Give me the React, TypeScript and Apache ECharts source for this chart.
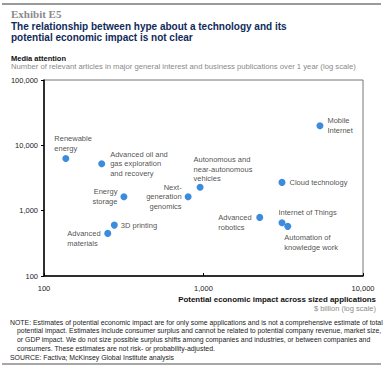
import React, { useEffect, useRef } from "react";
import * as echarts from "echarts";

const names = [
  "Renewable\nenergy",
  "Advanced oil and\ngas exploration\nand recovery",
  "Energy\nstorage",
  "Next-\ngeneration\ngenomics",
  "Autonomous and\nnear-autonomous\nvehicles",
  "Mobile\nInternet",
  "Cloud technology",
  "Advanced\nrobotics",
  "Internet of Things",
  "Automation of\nknowledge work",
  "3D printing",
  "Advanced\nmaterials",
];
const impact = [137, 230, 317, 801, 952, 5370, 3105, 2252, 3105, 3374, 276, 251];
const attention = [6300, 5220, 1634, 1634, 2277, 19950, 2710, 789, 653, 575, 601, 449];

const xTicks = [100, 1000, 10000];
const yTicks = [100, 1000, 10000, 100000];

const labelPlacement: any[] = [
  { position: [-8, -21], align: "left", verticalAlign: "top" },
  { position: "right", distance: 5 },
  { position: "left", distance: 3 },
  { position: "left", distance: 3 },
  { position: [-3, -29], align: "left", verticalAlign: "top" },
  { position: "right", distance: 4 },
  { position: "right", distance: 4 },
  { position: [-38, -1], align: "left", verticalAlign: "top" },
  { position: [0, -12], align: "left", verticalAlign: "top" },
  { position: [0, 10], align: "left", verticalAlign: "top" },
  { position: "right", distance: 3 },
  { position: [-37, -1], align: "left", verticalAlign: "top" },
];

const noteLines = [
  "NOTE: Estimates of potential economic impact are for only some applications and is not a comprehensive estimate of total",
  "potential impact. Estimates include consumer surplus and cannot be related to potential company revenue, market size,",
  "or GDP impact. We do not size possible surplus shifts among companies and industries, or between companies and",
  "consumers. These estimates are not risk- or probability-adjusted.",
];

const FONT = "'Liberation Sans', Arial, sans-serif";
const fmt = (v: number) => Math.round(v).toLocaleString("en-US");

export default function App() {
  const ref = useRef<HTMLDivElement>(null);
  useEffect(() => {
    if (!ref.current) return;
    const chart = echarts.init(ref.current, null, { renderer: "svg" });
    const labelBase = { show: true, fontSize: 7.5, fontFamily: FONT, color: "#1a1a1a", lineHeight: 9.5 };
    const data = names.map((n, i) => ({
      name: n,
      value: [impact[i], attention[i]],
      label: { ...labelBase, ...labelPlacement[i] },
    }));
    const graphic: any[] = [
      { type: "line", shape: { x1: 2, y1: 4, x2: 381, y2: 4 }, style: { stroke: "#9a9a9a", lineWidth: 2 } },
      {
        type: "text", x: 11, y: 8,
        style: { text: "Exhibit E5", font: "bold 11px 'Liberation Serif', Georgia, serif", fill: "#8a8a8a", verticalAlign: "top" },
      },
      {
        type: "text", x: 11, y: 20.5,
        style: {
          text: "The relationship between hype about a technology and its\npotential economic impact is not clear",
          font: `bold 10px ${FONT}`, fill: "#0f2b5b", verticalAlign: "top", lineHeight: 11,
        },
      },
      {
        type: "text", x: 11, y: 58,
        style: { text: "Media attention", font: `bold 7.5px ${FONT}`, fill: "#111", verticalAlign: "middle" },
      },
      {
        type: "text", x: 11, y: 66,
        style: {
          text: "Number of relevant articles in major general interest and business publications over 1 year (log scale)",
          font: `7.7px ${FONT}`, fill: "#8a8a8a", verticalAlign: "middle",
        },
      },
      {
        type: "text", x: 376, y: 299,
        style: { text: "Potential economic impact across sized applications", font: `bold 7.9px ${FONT}`, fill: "#111", align: "right", verticalAlign: "middle" },
      },
      {
        type: "text", x: 376, y: 308,
        style: { text: "$ billion (log scale)", font: `7.5px ${FONT}`, fill: "#8a8a8a", align: "right", verticalAlign: "middle" },
      },
      ...noteLines.map((t, i) => ({
        type: "text", x: i === 0 ? 10 : 17, y: 322 + i * 8.7,
        style: { text: t, font: `6.9px ${FONT}`, fill: "#222", verticalAlign: "middle" },
      })),
      {
        type: "text", x: 10, y: 357,
        style: { text: "SOURCE: Factiva; McKinsey Global Institute analysis", font: `6.9px ${FONT}`, fill: "#222", verticalAlign: "middle" },
      },
      { type: "line", shape: { x1: 2, y1: 364, x2: 381, y2: 364 }, style: { stroke: "#8a8a8a", lineWidth: 1.5 } },
    ];
    chart.setOption({
      animation: false,
      grid: { left: 44, right: 23, top: 80, bottom: 95, show: true, borderColor: "#777", borderWidth: 1, containLabel: false },
      xAxis: {
        type: "log", logBase: 10, min: xTicks[0], max: xTicks[xTicks.length - 1],
        axisLine: { show: true, lineStyle: { color: "#000", width: 1.5 } },
        axisTick: { show: true, inside: true, length: 3, lineStyle: { color: "#000" } },
        axisLabel: { formatter: fmt, fontSize: 7.5, fontFamily: FONT, color: "#222", margin: 8 },
        splitLine: { show: false },
        minorTick: { show: false },
      },
      yAxis: {
        type: "log", logBase: 10, min: yTicks[0], max: yTicks[yTicks.length - 1],
        axisLine: { show: true, lineStyle: { color: "#000", width: 1.5 } },
        axisTick: { show: true, inside: false, length: 3, lineStyle: { color: "#000" } },
        axisLabel: { formatter: fmt, fontSize: 7.5, fontFamily: FONT, color: "#222", margin: 6 },
        splitLine: { show: false },
      },
      series: [
        {
          type: "scatter",
          symbol: "circle",
          symbolSize: 7,
          itemStyle: { color: "#0b6fd4" },
          label: { ...labelBase, formatter: (p: any) => p.name },
          labelLayout: { hideOverlap: false },
          data,
        },
      ],
      graphic,
    });
    return () => chart.dispose();
  }, []);
  return <div ref={ref} style={{ position: "fixed", left: 0, top: 0, width: 386, height: 371, background: "#fff" }} />;
}
